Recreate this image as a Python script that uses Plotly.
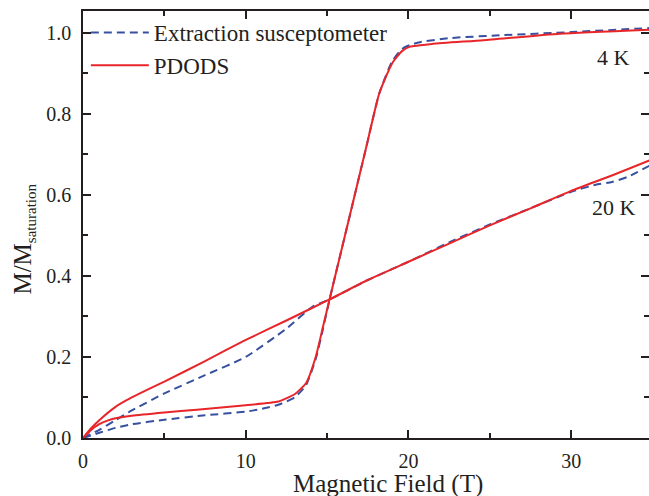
import plotly.graph_objects as go

# 4 K sweep
x_4k_pdods = [0, 0.5, 1, 1.5, 2, 3, 5, 7, 10, 12, 13, 13.7, 14.3, 14.75, 15.15, 15.6, 16.4, 17.4, 18.2, 19.0, 19.6, 20.1, 21.5, 24.6, 29.3, 34.8]
y_4k_pdods = [0, 0.02, 0.034, 0.043, 0.049, 0.055, 0.063, 0.070, 0.081, 0.090, 0.108, 0.135, 0.20, 0.275, 0.342, 0.417, 0.55, 0.717, 0.85, 0.925, 0.955, 0.966, 0.973, 0.982, 0.998, 1.008]

x_4k_ext = [0, 1, 2, 3, 5, 7.5, 10, 11, 12, 13, 13.7, 14.3, 14.75, 15.15, 15.6, 16.4, 17.4, 18.2, 19.0, 19.6, 20.1, 20.7, 22.5, 25.6, 30, 34.8]
y_4k_ext = [0, 0.013, 0.025, 0.034, 0.045, 0.056, 0.065, 0.072, 0.082, 0.10, 0.13, 0.195, 0.27, 0.342, 0.417, 0.55, 0.717, 0.85, 0.93, 0.96, 0.97, 0.977, 0.987, 0.994, 1.002, 1.012]

# 20 K sweep
x_20k_pdods = [0, 0.5, 1, 2, 3, 4, 5, 7.5, 10, 12.5, 15.15, 17.5, 20, 22.5, 25, 27.5, 30, 32.5, 34.8]
y_20k_pdods = [0, 0.024, 0.044, 0.077, 0.1, 0.12, 0.139, 0.19, 0.242, 0.29, 0.342, 0.39, 0.435, 0.48, 0.525, 0.567, 0.61, 0.648, 0.685]

x_20k_ext = [0, 1, 2, 3, 5, 7.5, 10, 12.5, 14.1, 15.15, 17.5, 20, 22.5, 25, 27.5, 30, 31.5, 32.5, 33.5, 34.8]
y_20k_ext = [0, 0.02, 0.044, 0.068, 0.11, 0.155, 0.20, 0.27, 0.324, 0.342, 0.39, 0.435, 0.483, 0.527, 0.567, 0.608, 0.625, 0.632, 0.645, 0.672]

red = '#e8262a'
blue = '#3750a0'
font = 'Liberation Serif'
ink = '#231f20'

fig = go.Figure()

fig.add_trace(go.Scatter(x=x_4k_ext, y=y_4k_ext, mode='lines', name='Extraction susceptometer',
                         line=dict(color=blue, width=2, dash='8px,5px', shape='spline', smoothing=0.5)))
fig.add_trace(go.Scatter(x=x_20k_ext, y=y_20k_ext, mode='lines', showlegend=False,
                         line=dict(color=blue, width=2, dash='8px,5px', shape='spline', smoothing=0.5)))
fig.add_trace(go.Scatter(x=x_4k_pdods, y=y_4k_pdods, mode='lines', name='PDODS',
                         line=dict(color=red, width=2, shape='spline', smoothing=0.5)))
fig.add_trace(go.Scatter(x=x_20k_pdods, y=y_20k_pdods, mode='lines', showlegend=False,
                         line=dict(color=red, width=2, shape='spline', smoothing=0.5)))

axis_common = dict(
    showgrid=False, zeroline=False, showline=True, linecolor=ink, linewidth=1.5,
    mirror='ticks', ticks='inside', ticklen=8, tickwidth=1.5, tickcolor=ink,
    tickfont=dict(family=font, size=20, color=ink), automargin=False,
)

fig.update_xaxes(range=[0, 34.78], dtick=10, tick0=0,
                 minor=dict(ticks='inside', ticklen=5, dtick=5, tickcolor=ink, tickwidth=1.5),
                 ticklabelstandoff=4,
                 **axis_common)
fig.update_yaxes(range=[0, 1.054], dtick=0.2, tick0=0, tickformat='.1f',
                 minor=dict(ticks='inside', ticklen=5, dtick=0.1, tickcolor=ink, tickwidth=1.5),
                 ticklabelstandoff=6,
                 **axis_common)

fig.add_annotation(text='Magnetic Field (T)', xref='paper', yref='paper', x=0.539, y=-0.108,
                   xanchor='center', yanchor='middle', showarrow=False,
                   font=dict(family=font, size=25, color=ink))
fig.add_annotation(text='M/M<sub><span style="font-size:15px">saturation</span></sub>',
                   xref='paper', yref='paper', x=-0.105, y=0.466,
                   xanchor='center', yanchor='middle', textangle=-90, showarrow=False,
                   font=dict(family=font, size=25, color=ink))
fig.add_annotation(text='4 K', x=32.6, y=0.94, showarrow=False,
                   font=dict(family=font, size=22, color=ink))
fig.add_annotation(text='20 K', x=32.6, y=0.568, showarrow=False,
                   font=dict(family=font, size=22, color=ink))

fig.update_layout(
    width=649, height=496,
    margin=dict(l=83, r=0, t=11, b=58),
    paper_bgcolor='white', plot_bgcolor='white',
    legend=dict(x=0.005, y=1.0, xanchor='left', yanchor='top', bgcolor='rgba(0,0,0,0)',
                font=dict(family=font, size=23, color=ink), itemwidth=58),
    showlegend=True,
)

# drop the default page margin so the figure sits at the window's corner
fig.write_html('out.html', config={'displayModeBar': False},
               post_script="document.body.style.margin='0px';document.body.style.overflow='hidden';")
